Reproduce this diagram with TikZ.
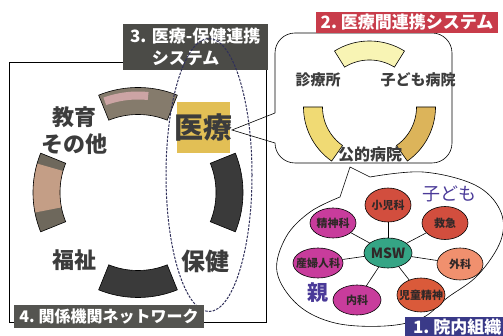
\documentclass[tikz,border=0pt]{standalone}
\usepackage{fontspec}
\setmainfont{Noto Sans CJK JP}
\usetikzlibrary{shapes.geometric}
\definecolor{ringtxt}{HTML}{3C3C3C}
\definecolor{segdark}{HTML}{3A3A3A}
\definecolor{segbrown}{HTML}{857B6C}
\definecolor{segpink}{HTML}{CCA4A4}
\definecolor{segend}{HTML}{6E685C}
\definecolor{segtan}{HTML}{C49E86}
\definecolor{iryo}{HTML}{E2BF55}
\definecolor{dashc}{HTML}{30305A}
\definecolor{grayA}{HTML}{4B4B47}
\definecolor{grayB}{HTML}{545450}
\definecolor{redlab}{HTML}{C83C4A}
\definecolor{bluelab}{HTML}{3A3A88}
\definecolor{yel1}{HTML}{F8F4B4}
\definecolor{yel2}{HTML}{F0DA74}
\definecolor{yel3}{HTML}{DCB45A}
\definecolor{magn}{HTML}{C83C9C}
\definecolor{redn}{HTML}{D24E3E}
\definecolor{salm}{HTML}{F0906E}
\definecolor{redo}{HTML}{DA5A3A}
\definecolor{teal}{HTML}{35A585}
\definecolor{purp}{HTML}{4A3A98}
\definecolor{nodetxt}{HTML}{302828}
\newcommand\nt[1]{\makebox[0pt]{#1}}
\begin{document}
\begin{tikzpicture}[x=1pt,y=-1pt,
  segline/.style={draw=black,line width=0.6pt},
  ringlab/.style={font=\bfseries\fontsize{22}{27}\selectfont,text=ringtxt,inner sep=0,align=center},
  smalllab/.style={font=\bfseries\fontsize{15}{18}\selectfont,text=ringtxt,inner sep=0},
  tagbox/.style={inner sep=0,text=white,font=\bfseries\fontsize{17}{22}\selectfont},
  netnode/.style={ellipse,draw=black,line width=0.6pt,inner sep=0,font=\bfseries\fontsize{11}{12}\selectfont,text=nodetxt},
  netedge/.style={line width=0.6pt}]
\useasboundingbox (0,0) rectangle (503,336);
% frame
\draw[line width=0.6pt] (9,62) rectangle (266,322);
% ring segments
\fill[segbrown] plot[domain=248:292,samples=25] ({138+105*cos(\x)},{192.5+105*sin(\x)}) -- plot[domain=292:248,samples=25] ({138+78*cos(\x)},{192.5+78*sin(\x)}) -- cycle;
\fill[segpink] plot[domain=250:276,samples=20] ({138+101*cos(\x)},{192.5+101*sin(\x)}) -- plot[domain=276:250,samples=20] ({138+93*cos(\x)},{192.5+93*sin(\x)}) -- cycle;
\draw[segline] plot[domain=248:292,samples=25] ({138+105*cos(\x)},{192.5+105*sin(\x)}) -- plot[domain=292:248,samples=25] ({138+78*cos(\x)},{192.5+78*sin(\x)}) -- cycle;
\fill[segend] plot[domain=158:202,samples=25] ({138+105*cos(\x)},{192.5+105*sin(\x)}) -- plot[domain=202:158,samples=25] ({138+78*cos(\x)},{192.5+78*sin(\x)}) -- cycle;
\fill[segtan] plot[domain=169:196,samples=20] ({138+105*cos(\x)},{192.5+105*sin(\x)}) -- plot[domain=196:169,samples=20] ({138+78*cos(\x)},{192.5+78*sin(\x)}) -- cycle;
\draw[segline] plot[domain=158:202,samples=25] ({138+105*cos(\x)},{192.5+105*sin(\x)}) -- plot[domain=202:158,samples=25] ({138+78*cos(\x)},{192.5+78*sin(\x)}) -- cycle;
\filldraw[segline,fill=segdark] plot[domain=-22:22,samples=25] ({138+105*cos(\x)},{192.5+105*sin(\x)}) -- plot[domain=22:-22,samples=25] ({138+78*cos(\x)},{192.5+78*sin(\x)}) -- cycle;
\filldraw[segline,fill=segdark] plot[domain=68:112,samples=25] ({138+105*cos(\x)},{192.5+105*sin(\x)}) -- plot[domain=112:68,samples=25] ({138+78*cos(\x)},{192.5+78*sin(\x)}) -- cycle;
% ring labels
\node[ringlab] (kyoiku) at (74,130.5) {教育\\その他};
\node[ringlab] (fukushi) at (74,260) {福祉};
\node[ringlab,font=\bfseries\fontsize{24}{28}\selectfont] (hoken) at (205,261) {保健};
\node[fill=iryo,minimum width=53pt,minimum height=51pt,inner sep=0,text=ringtxt,font=\bfseries\fontsize{29}{32}\selectfont] (iryo) at (203.5,127.5) {\raisebox{-3pt}{\makebox[0pt]{医療}}};
% label 3
\node[tagbox,fill=grayA,minimum width=145pt,minimum height=46pt,text width=131pt,align=left,inner xsep=7pt] (tag3) at (195.5,47) {3.~医療-保健連携\\\phantom{3.~}システム};
% dashed ellipse
\draw[dashc,line width=1pt,dash pattern=on 2.5pt off 1.3pt] (209,175) ellipse [x radius=43, y radius=136.5];
% label 4
\node[tagbox,fill=grayB,minimum width=190pt,minimum height=23pt,font=\bfseries\fontsize{16}{20}\selectfont] (tag4) at (109,316.5) {4.~関係機関ネットワーク};
% callout 2
\coordinate (apex) at (232,130);
\coordinate (c2a) at (275,113);
\coordinate (c2b) at (275,143);
\draw[line width=0.6pt,rounded corners=20pt] (c2a) -- (275,33) -- (452,33) -- (452,163) -- (275,163) -- (c2b);
\draw[line width=0.6pt] (c2a) -- (apex) -- (c2b);
\filldraw[segline,fill=yel1] plot[domain=238:302,samples=25] ({369.5+66*cos(\x)},{107+66*sin(\x)}) -- plot[domain=302:238,samples=25] ({369.5+47*cos(\x)},{107+47*sin(\x)}) -- cycle;
\filldraw[segline,fill=yel2] plot[domain=125:180,samples=25] ({369.5+66*cos(\x)},{107+66*sin(\x)}) -- plot[domain=180:125,samples=25] ({369.5+47*cos(\x)},{107+47*sin(\x)}) -- cycle;
\filldraw[segline,fill=yel3] plot[domain=0:55,samples=25] ({369.5+66*cos(\x)},{107+66*sin(\x)}) -- plot[domain=55:0,samples=25] ({369.5+47*cos(\x)},{107+47*sin(\x)}) -- cycle;
\node[smalllab] (shinryo) at (318,80) {診療所};
\node[smalllab] (kodomob) at (418,80) {子ども病院};
\node[smalllab,font=\bfseries\fontsize{16}{19}\selectfont] (koteki) at (370,154) {公的病院};
% callout 1 blob
\coordinate (tip) at (350,167);
\draw[line width=0.6pt] (tip) -- plot[smooth,tension=0.6] coordinates {(370,177) (423,172) (475,185) (500,210) (501,240) (478,275) (447,298) (422,318) (385,326) (335,323) (298,305) (277,272) (286,237) (310,212) (340,197)} -- cycle;
% network
\node[netnode,fill=teal,minimum width=48pt,minimum height=30pt,font=\bfseries\fontsize{14}{16}\selectfont] (msw) at (388,253) {\nt{MSW}};
\node[netnode,fill=redn,minimum width=46pt,minimum height=34pt] (shoni) at (388,205) {\nt{小児科}};
\node[netnode,fill=redn,minimum width=46pt,minimum height=33pt] (kyukyu) at (445,223) {\nt{救急}};
\node[netnode,fill=salm,minimum width=46pt,minimum height=32pt] (geka) at (460,264) {\nt{外科}};
\node[netnode,fill=redo,minimum width=48pt,minimum height=34pt] (jido) at (421,295) {\nt{児童精神}};
\node[netnode,fill=magn,minimum width=48pt,minimum height=30pt] (naika) at (357,300) {\nt{内科}};
\node[netnode,fill=magn,minimum width=50pt,minimum height=30pt] (sanfu) at (318,263) {\nt{産婦人科}};
\node[netnode,fill=magn,minimum width=46pt,minimum height=30pt] (seishin) at (333,223) {\nt{精神科}};
\foreach \n in {shoni,kyukyu,geka,jido,naika,sanfu,seishin} \draw[netedge] (msw) -- (\n);
\node[inner sep=0,text=purp,font=\fontsize{18}{20}\selectfont] (kodomo) at (449,194) {子ども};
\node[inner sep=0,text=purp,font=\bfseries\fontsize{21}{24}\selectfont] (oya) at (318,293) {親};
% labels 1 and 2
\node[tagbox,fill=redlab,minimum width=182pt,minimum height=21pt] (tag2) at (407,22.5) {2.~医療間連携システム};
\node[tagbox,fill=bluelab,minimum width=100pt,minimum height=20pt,anchor=north west] (tag1) at (405,317) {\hspace{4pt}1.~院内組織\hfill};
\end{tikzpicture}
\end{document}
